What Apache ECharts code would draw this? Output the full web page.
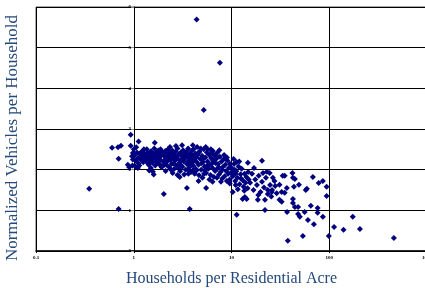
<!DOCTYPE html>
<html>
<head>
<meta charset="utf-8">
<script src="https://cdn.jsdelivr.net/npm/echarts@6/dist/echarts.min.js"></script>
<style>
  html, body { margin: 0; padding: 0; background: #fff; }
  #chart { width: 425px; height: 288px; }
</style>
</head>
<body>
<div id="chart"></div>
<script>
  // [households per acre, normalized vehicles per household]
  var leftPoints = [
    [0.6, 2.54], [0.69, 2.55], [0.74, 2.59], [0.7, 2.27], [0.87, 2.12], [0.9, 2.06],
    [0.93, 2.86], [0.93, 2.59], [0.98, 2.41], [0.98, 2.25], [0.97, 2.1], [0.96, 2.33],
    [1.12, 2.69], [1.64, 2.66], [1.57, 1.95], [1.6, 1.88]
  ];

  var corePoints = [
    [1.02, 2.35], [1.05, 2.22], [1.08, 2.42], [1.1, 2.28], [1.12, 2.15], [1.15, 2.38],
    [1.18, 2.25], [1.2, 2.44], [1.22, 2.3], [1.25, 2.18], [1.28, 2.4], [1.3, 2.26],
    [1.04, 2.08], [1.1, 2.04], [1.0, 2.5], [1.06, 2.55], [1.14, 2.1], [1.27, 2.5],
    [1.32, 2.34], [1.35, 2.2], [1.38, 2.42], [1.4, 2.28], [1.42, 2.12], [1.45, 2.37],
    [1.48, 2.23], [1.5, 2.45], [1.52, 2.3], [1.55, 2.17], [1.58, 2.4], [1.6, 2.26],
    [1.63, 2.35], [1.66, 2.1], [1.7, 2.43], [1.72, 2.2], [1.75, 2.32], [1.78, 2.47],
    [1.8, 2.15], [1.83, 2.38], [1.86, 2.25], [1.9, 2.34], [1.93, 2.06], [1.96, 2.42],
    [2.0, 2.2], [1.36, 2.5], [1.5, 2.04], [1.62, 2.52], [1.88, 2.5], [1.44, 1.98],
    [1.2, 2.34], [1.4, 2.16], [1.7, 2.28], [1.15, 2.3], [1.55, 2.36], [1.85, 2.12],
    [2.03, 2.34], [2.06, 2.12], [2.1, 2.46], [2.13, 2.27], [2.16, 2.39], [2.2, 2.2],
    [2.24, 2.5], [2.27, 2.3], [2.3, 2.06], [2.33, 2.42], [2.37, 2.24], [2.4, 2.36],
    [2.44, 2.14], [2.48, 2.47], [2.52, 2.28], [2.56, 2.39], [2.6, 2.02], [2.64, 2.22],
    [2.68, 2.44], [2.72, 2.32], [2.76, 2.1], [2.8, 2.52], [2.85, 2.26], [2.9, 2.38],
    [2.95, 2.17], [2.98, 1.96], [2.12, 1.97], [2.5, 1.92], [2.35, 2.56], [2.7, 2.58],
    [3.02, 2.42], [3.06, 2.24], [3.1, 2.34], [3.15, 2.07], [3.2, 2.48], [3.25, 2.2],
    [3.3, 2.37], [3.35, 2.28], [3.4, 2.0], [3.45, 2.44], [3.5, 2.14], [3.55, 2.32],
    [3.6, 2.52], [3.65, 2.22], [3.7, 2.06], [3.75, 2.39], [3.8, 2.27], [3.85, 1.94],
    [3.9, 2.46], [3.95, 2.17], [4.0, 2.34], [4.05, 2.1], [4.1, 2.5], [4.15, 2.24],
    [4.2, 1.9], [4.25, 2.4], [4.3, 2.02], [4.35, 2.3], [4.4, 2.19], [4.45, 2.56],
    [3.28, 1.88], [3.62, 1.9], [4.02, 2.6], [3.12, 2.6], [4.38, 1.98],
    [2.2, 2.36], [2.6, 2.3], [3.0, 2.12], [3.4, 2.4], [3.8, 2.12], [4.2, 2.28],
    [2.4, 2.0], [2.9, 2.02], [3.6, 2.0], [4.0, 1.98], [2.15, 2.12], [2.55, 2.15],
    [3.2, 2.3], [3.9, 2.36],
    [4.5, 2.36], [4.6, 2.12], [4.7, 2.44], [4.8, 2.26], [4.9, 2.0], [5.0, 2.34],
    [5.1, 2.18], [5.2, 2.5], [5.3, 2.07], [5.4, 2.3], [5.5, 1.92], [5.6, 2.42],
    [5.7, 2.2], [5.8, 2.02], [5.9, 2.36], [6.0, 2.12], [6.1, 1.87], [6.2, 2.28],
    [6.3, 2.44], [6.4, 2.04], [6.5, 2.22], [6.6, 1.82], [6.7, 2.34], [6.8, 1.97],
    [6.9, 2.16], [4.65, 1.86], [5.05, 1.8], [5.45, 2.56], [5.95, 1.76], [6.45, 2.46],
    [4.85, 2.52], [5.25, 1.9], [6.15, 2.5], [5.7, 2.5], [6.4, 2.4], [6.9, 2.35],
    [4.6, 2.42], [5.15, 2.26], [5.65, 2.1], [6.25, 2.14], [5.35, 1.98], [4.95, 2.16],
    [7.0, 2.27], [7.15, 2.02], [7.3, 2.14], [7.45, 1.88], [7.6, 2.32], [7.75, 1.94],
    [7.9, 2.2], [8.05, 1.78], [8.2, 2.07], [8.35, 2.26], [8.5, 1.84], [8.65, 2.12],
    [8.8, 1.97], [8.95, 1.72], [9.1, 2.22], [9.25, 1.9], [9.4, 2.04], [9.55, 1.76],
    [9.7, 2.14], [9.85, 1.92], [7.2, 2.42], [7.8, 1.7], [8.4, 2.36], [9.0, 2.3],
    [9.6, 1.66], [7.5, 2.48], [7.4, 2.06], [8.0, 2.0], [8.7, 2.28], [7.1, 1.8],
    [10.0, 2.04], [10.3, 1.84], [10.6, 2.14], [10.9, 1.72], [11.2, 1.96], [11.5, 1.8],
    [11.8, 2.08], [12.1, 1.64], [12.4, 1.89], [12.7, 2.02], [13.0, 1.74], [13.3, 1.58],
    [13.6, 1.9], [13.9, 1.68], [14.2, 1.82], [14.6, 1.54], [15.0, 1.76], [10.5, 2.26],
    [11.0, 1.62], [12.0, 2.2], [13.5, 1.48], [14.8, 1.94], [11.6, 1.52], [10.2, 1.95],
    [11.0, 1.9], [12.5, 1.78], [10.8, 2.0]
  ];

  var tailPoints = [
    [15.5, 1.68], [16.2, 1.9], [16.8, 1.5], [17.5, 1.76], [18.2, 1.62], [19.0, 1.85],
    [19.8, 1.45], [20.5, 1.7], [21.5, 1.56], [22.5, 1.8], [23.5, 1.4], [24.8, 1.62],
    [26.0, 1.5], [27.5, 1.72], [29.0, 1.42], [17.0, 2.04], [18.8, 1.38], [23.0, 1.95],
    [25.5, 1.34], [28.0, 1.6], [20.5, 2.22], [14.7, 2.17], [11.3, 2.19], [21, 1.92],
    [24.6, 1.92], [26.5, 1.8], [31, 1.63], [35, 1.43], [35, 1.85], [42, 1.92],
    [42.5, 1.8], [33.4, 1.85], [44.5, 1.77], [49, 1.63], [57.5, 1.5], [68, 1.82],
    [78, 1.67], [86, 1.72], [94, 1.58], [94, 1.35], [59, 1.53], [43.5, 1.58],
    [32.6, 1.45], [36.8, 1.55], [23.5, 1.5], [25.8, 1.45], [42.5, 1.28], [42.5, 1.18],
    [44.5, 1.08], [48, 1.08], [32.6, 1.21], [31, 1.26], [22, 1.26], [18.6, 1.26],
    [13, 1.28], [13.7, 1.33], [14.3, 1.28], [10.3, 1.45], [64.8, 1.11], [76, 1.06],
    [22, 1.01], [37, 0.96], [56, 0.96], [48, 0.91], [50, 0.84], [76, 0.94],
    [86, 0.84], [60.5, 0.76], [69.6, 0.66], [112, 0.59], [140, 0.52], [206, 0.54],
    [174, 0.84], [99, 0.37], [53.7, 0.37], [37.7, 0.25], [458, 0.32], [11.3, 0.89]
  ];

  var outlierPoints = [
    [4.4, 5.69], [7.6, 4.63], [5.2, 3.47], [0.35, 1.53], [0.7, 1.03], [2.03, 1.4],
    [3.74, 1.03], [3.5, 1.55], [5.5, 1.55], [4.6, 1.72], [2.8, 1.87], [2.95, 1.82],
    [6.4, 1.7]
  ];

  var xTickLabels = { 0.1: '0.1', 1: '1', 10: '10', 100: '100', 1000: '1000' };
  var yTicks = [0, 1, 2, 3, 4, 5, 6];

  var serif = '"Liberation Serif", "DejaVu Serif", serif';
  var chart = echarts.init(document.getElementById('chart'));

  var option = {
    animation: false,
    grid: {
      left: 36, right: -2, top: 7, bottom: 37,
      outerBoundsMode: 'none',
      containLabel: false,
      show: true,
      borderColor: '#555',
      borderWidth: 1
    },
    xAxis: {
      type: 'log',
      logBase: 10,
      min: 0.1,
      max: 1000,
      name: 'Households per Residential Acre',
      nameLocation: 'middle',
      nameGap: 20,
      nameTextStyle: { fontFamily: serif, fontSize: 16, color: '#24497a' },
      axisLine: { lineStyle: { color: '#000', width: 1.5 } },
      axisTick: { show: true, length: 2, lineStyle: { color: '#000' } },
      axisLabel: {
        fontFamily: serif, fontSize: 5, fontWeight: 'bold', color: '#000', margin: 4,
        formatter: function (v) { return xTickLabels[v] || ''; }
      },
      splitLine: { show: true, lineStyle: { color: '#000', width: 1 } }
    },
    yAxis: {
      type: 'value',
      min: yTicks[0],
      max: yTicks[yTicks.length - 1],
      interval: 1,
      offset: -98,
      axisLine: { show: true, lineStyle: { color: '#000' } },
      axisTick: { show: true, length: 3, lineStyle: { color: '#888' } },
      axisLabel: { fontFamily: serif, fontSize: 5, fontWeight: 'bold', color: '#000', margin: 3 },
      splitLine: { show: true, lineStyle: { color: '#000', width: 1 } }
    },
    graphic: [{
      type: 'text',
      x: 13,
      y: 138,
      rotation: Math.PI / 2,
      style: {
        text: 'Normalized Vehicles per Household',
        textAlign: 'center',
        verticalAlign: 'middle',
        fontFamily: serif,
        fontSize: 17,
        fill: '#24497a'
      }
    }],
    series: [{
      type: 'scatter',
      symbol: 'diamond',
      symbolSize: 6,
      itemStyle: { color: '#000080', opacity: 1 },
      data: leftPoints.concat(corePoints, tailPoints, outlierPoints)
    }]
  };

  chart.setOption(option);
</script>
</body>
</html>
